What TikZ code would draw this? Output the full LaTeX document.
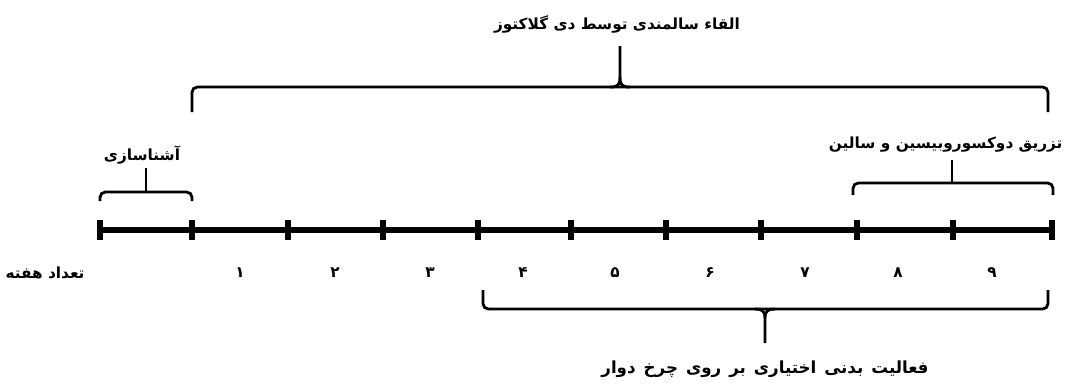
\documentclass[tikz,border=0pt]{standalone}
\usepackage{fontspec}
\newfontfamily\farsi[Script=Arabic]{DejaVu Sans}
\TeXXeTstate=1
\usetikzlibrary{calc}

\begin{document}
\begin{tikzpicture}[x=0.75pt, y=-0.75pt]
\tikzset{
  axis/.style={line width=5.2pt},
  weektick/.style={line width=4.4pt},
  bracket/.style={line width=2.1pt, rounded corners=4pt},
  fatext/.style={font=\farsi\bfseries\fontsize{11.5}{13}\selectfont, inner sep=1pt},
}
\useasboundingbox (0,0) rectangle (1067,387);

% Week axis
\foreach \x [count=\i from 0] in {100,192,288,383,478,571,666,761,857,953,1052}
  \coordinate (t\i) at (\x,230);
\draw[axis] (t0) -- (t10);
\foreach \i in {0,...,10}
  \draw[weektick] ($(t\i)+(0,-10)$) -- ($(t\i)+(0,10)$);

% Week numbers
\node (weeks) [fatext] at (45,273) {\beginR تعداد هفته\endR};
\foreach \x/\n in {240/۱,335/۲,430/۳,523/۴,615/۵,710/۶,805/۷,898/۸,992/۹}
  \node [fatext] at (\x,273) {\n};

% Aging induction (weeks 1-9)
\node (aging) [fatext] at (617,24) {\beginR القاء سالمندی توسط دی گلاکتوز\endR};
\coordinate (agingtip) at (620,46);
\draw[bracket] (192,112) -- (192,87) -- (1048,87) -- (1048,112);
\draw[line width=2.1pt] (610,87) .. controls (618,87) and (620,85) .. (620,77) -- (agingtip);
\draw[line width=2.1pt] (630,87) .. controls (622,87) and (620,85) .. (620,77);

% Habituation
\node (habit) [fatext] at (142,155) {\beginR آشناسازی\endR};
\coordinate (habittip) at (146,168);
\draw[bracket] (100,201) -- (100,192) -- (192,192) -- (192,201);
\draw[line width=2.1pt] (146,192) -- (habittip);

% Doxorubicin / saline injection
\node (inject) [fatext, anchor=east] at (1064,145) {\beginR تزریق دوکسوروبیسین و سالین\endR};
\coordinate (injecttip) at (952,160);
\draw[bracket] (853,195) -- (853,183) -- (1053,183) -- (1053,195);
\draw[line width=2.1pt] (952,183) -- (injecttip);

% Voluntary wheel running
\node (wheel) [fatext, font=\farsi\bfseries\fontsize{12.5}{14}\selectfont] at (765,369) {\spaceskip=6pt plus 1pt\relax\beginR فعالیت بدنی اختیاری بر روی چرخ دوار\endR};
\coordinate (wheeltip) at (765,343);
\draw[bracket] (483,290) -- (483,309) -- (1048,309) -- (1048,290);
\draw[line width=2.1pt] (755,309) .. controls (762,309) and (765,311) .. (765,318) -- (wheeltip);
\draw[line width=2.1pt] (775,309) .. controls (768,309) and (765,311) .. (765,318);

\end{tikzpicture}
\end{document}
